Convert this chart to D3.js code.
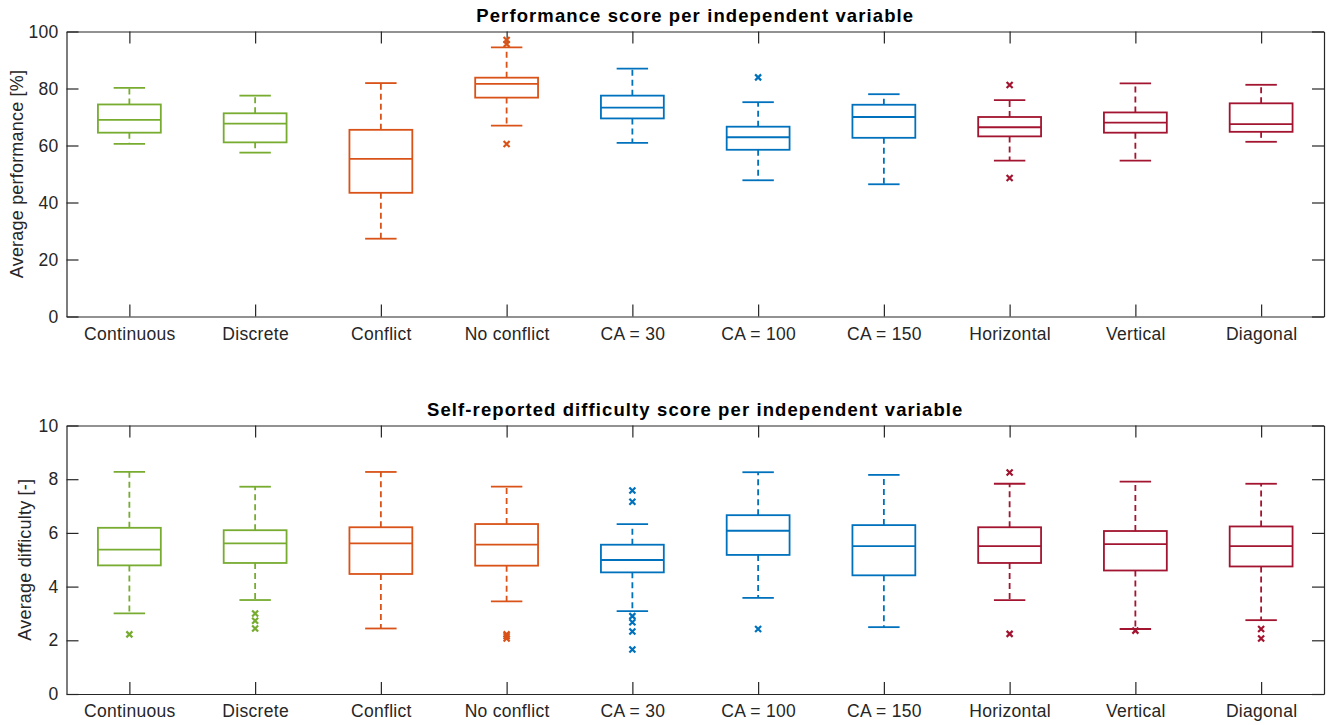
<!DOCTYPE html>
<html>
<head>
<meta charset="utf-8">
<script src="https://cdn.jsdelivr.net/npm/d3@7"></script>
<style>
  body { margin: 0; background: #fff; }
  svg { font-family: "Liberation Sans", Arial, sans-serif; }
</style>
</head>
<body>
<div id="chart"></div>
<script>
// categories along the x axis (same for both panels)
const categories = ["Continuous", "Discrete", "Conflict", "No conflict", "CA = 30",
    "CA = 100", "CA = 150", "Horizontal", "Vertical", "Diagonal"];
const catColors = ["#77AC30", "#77AC30", "#D95319", "#D95319", "#0072BD",
    "#0072BD", "#0072BD", "#A2142F", "#A2142F", "#A2142F"];

// Performance score
const perfHigh   = [80.2, 77.5, 81.9, 94.4, 87.0, 75.2, 78.0, 75.9, 81.8, 81.3];
const perfQ3     = [74.4, 71.3, 65.5, 83.8, 77.5, 66.6, 74.3, 70.0, 71.6, 74.8];
const perfMedian = [69.0, 67.7, 55.3, 81.6, 73.3, 62.9, 70.0, 66.4, 68.0, 67.5];
const perfQ1     = [64.5, 61.1, 43.4, 76.8, 69.5, 58.5, 62.7, 63.2, 64.5, 64.8];
const perfLow    = [60.6, 57.5, 27.3, 67.0, 60.9, 47.8, 46.4, 54.7, 54.7, 61.3];
const perfOutliers = [[], [], [], [97.0, 95.6, 60.5], [], [83.9], [], [81.2, 48.6], [], []];
const perfTicks = [0, 20, 40, 60, 80, 100];

// Self-reported difficulty
const diffHigh   = [8.27, 7.72, 8.27, 7.72, 6.33, 8.26, 8.16, 7.83, 7.91, 7.83];
const diffQ3     = [6.19, 6.10, 6.21, 6.33, 5.56, 6.66, 6.29, 6.21, 6.07, 6.24];
const diffMedian = [5.38, 5.61, 5.61, 5.56, 4.99, 6.08, 5.51, 5.51, 5.58, 5.51];
const diffQ1     = [4.79, 4.88, 4.47, 4.78, 4.53, 5.18, 4.42, 4.88, 4.60, 4.75];
const diffLow    = [3.00, 3.50, 2.44, 3.45, 3.09, 3.58, 2.49, 3.50, 2.42, 2.75];
const diffOutliers = [[2.22], [3.00, 2.73, 2.44], [], [2.22, 2.15, 2.07],
    [7.58, 7.16, 2.90, 2.67, 2.33, 1.66], [2.42], [], [8.25, 2.24], [2.36], [2.42, 2.07]];
const diffTicks = [0, 2, 4, 6, 8, 10];

const width = 1330, height = 725;
const axisColor = "#262626";

const svg = d3.select("#chart").append("svg")
    .attr("width", width)
    .attr("height", height);

function drawPanel(p) {
    const x = d3.scaleLinear().domain([0.5, 10.5]).range([p.left, p.right]);
    const y = d3.scaleLinear().domain(p.domain).range([p.bottom, p.top]);
    const g = svg.append("g");

    const stats = categories.map((c, i) => ({
        i: i + 1, color: catColors[i],
        hi: p.high[i], q3: p.q3[i], med: p.median[i], q1: p.q1[i], lo: p.low[i],
        out: p.outliers[i]
    }));

    const tickLen = 12;
    const styleAxis = (a) => {
        a.select(".domain").attr("stroke", axisColor).attr("stroke-width", 1.2);
        a.selectAll(".tick line").attr("stroke", axisColor).attr("stroke-width", 1.2);
        a.selectAll(".tick text").attr("fill", axisColor)
            .attr("font-size", 17.5).attr("letter-spacing", 0.3);
    };

    g.append("g")
        .attr("transform", `translate(0,${p.bottom})`)
        .call(d3.axisBottom(x).tickValues(d3.range(1, 11))
            .tickFormat((d) => categories[d - 1])
            .tickSizeInner(-tickLen).tickSizeOuter(0).tickPadding(11))
        .call(styleAxis);
    g.append("g")
        .attr("transform", `translate(0,${p.top})`)
        .call(d3.axisTop(x).tickValues(d3.range(1, 11)).tickFormat("")
            .tickSizeInner(-tickLen).tickSizeOuter(0))
        .call(styleAxis);
    g.append("g")
        .attr("transform", `translate(${p.left},0)`)
        .call(d3.axisLeft(y).tickValues(p.ticks)
            .tickSizeInner(-tickLen).tickSizeOuter(0).tickPadding(8))
        .call(styleAxis);
    g.append("g")
        .attr("transform", `translate(${p.right},0)`)
        .call(d3.axisRight(y).tickValues(p.ticks).tickFormat("")
            .tickSizeInner(-tickLen).tickSizeOuter(0))
        .call(styleAxis);

    // boxes
    const box = g.append("g").selectAll("g")
        .data(stats)
        .join("g")
        .attr("stroke", (d) => d.color)
        .attr("fill", "none")
        .attr("stroke-width", 1.8);

    // whiskers (dashed)
    box.append("line")
        .attr("x1", (d) => x(d.i)).attr("x2", (d) => x(d.i))
        .attr("y1", (d) => y(d.q3)).attr("y2", (d) => y(d.hi))
        .attr("stroke-dasharray", "6,4");
    box.append("line")
        .attr("x1", (d) => x(d.i)).attr("x2", (d) => x(d.i))
        .attr("y1", (d) => y(d.q1)).attr("y2", (d) => y(d.lo))
        .attr("stroke-dasharray", "6,4");
    // caps
    box.append("line")
        .attr("x1", (d) => x(d.i - 0.125)).attr("x2", (d) => x(d.i + 0.125))
        .attr("y1", (d) => y(d.hi)).attr("y2", (d) => y(d.hi));
    box.append("line")
        .attr("x1", (d) => x(d.i - 0.125)).attr("x2", (d) => x(d.i + 0.125))
        .attr("y1", (d) => y(d.lo)).attr("y2", (d) => y(d.lo));
    // box
    box.append("rect")
        .attr("x", (d) => x(d.i - 0.25))
        .attr("width", (d) => x(d.i + 0.25) - x(d.i - 0.25))
        .attr("y", (d) => y(d.q3))
        .attr("height", (d) => y(d.q1) - y(d.q3));
    // median
    box.append("line")
        .attr("x1", (d) => x(d.i - 0.25)).attr("x2", (d) => x(d.i + 0.25))
        .attr("y1", (d) => y(d.med)).attr("y2", (d) => y(d.med));

    // outliers as small x marks
    const m = 3;
    box.selectAll("path.out")
        .data((d) => d.out.map((v) => ({ i: d.i, v: v })))
        .join("path")
        .attr("class", "out")
        .attr("stroke-width", 2.2)
        .attr("d", (o) => {
            const cx = x(o.i), cy = y(o.v);
            return `M${cx - m},${cy - m}L${cx + m},${cy + m}M${cx - m},${cy + m}L${cx + m},${cy - m}`;
        });

    // title
    svg.append("text")
        .attr("x", (p.left + p.right) / 2)
        .attr("y", p.titleY)
        .attr("text-anchor", "middle")
        .attr("font-weight", "bold")
        .attr("font-size", 18.5)
        .attr("letter-spacing", 1.1)
        .attr("fill", "#000")
        .text(p.title);

    // y label
    svg.append("text")
        .attr("transform", `translate(${p.labelX},${(p.top + p.bottom) / 2}) rotate(-90)`)
        .attr("text-anchor", "middle")
        .attr("font-size", 18)
        .attr("letter-spacing", 0.2)
        .attr("fill", axisColor)
        .text(p.ylabel);
}

drawPanel({
    left: 66.5, right: 1324, top: 31.5, bottom: 316.5,
    domain: [0, 100], ticks: perfTicks,
    high: perfHigh, q3: perfQ3, median: perfMedian, q1: perfQ1, low: perfLow,
    outliers: perfOutliers,
    title: "Performance score per independent variable", titleY: 22,
    ylabel: "Average performance [%]", labelX: 23
});

drawPanel({
    left: 66.5, right: 1324, top: 425.5, bottom: 694,
    domain: [0, 10], ticks: diffTicks,
    high: diffHigh, q3: diffQ3, median: diffMedian, q1: diffQ1, low: diffLow,
    outliers: diffOutliers,
    title: "Self-reported difficulty score per independent variable", titleY: 416,
    ylabel: "Average difficulty [-]", labelX: 31
});
</script>
</body>
</html>
